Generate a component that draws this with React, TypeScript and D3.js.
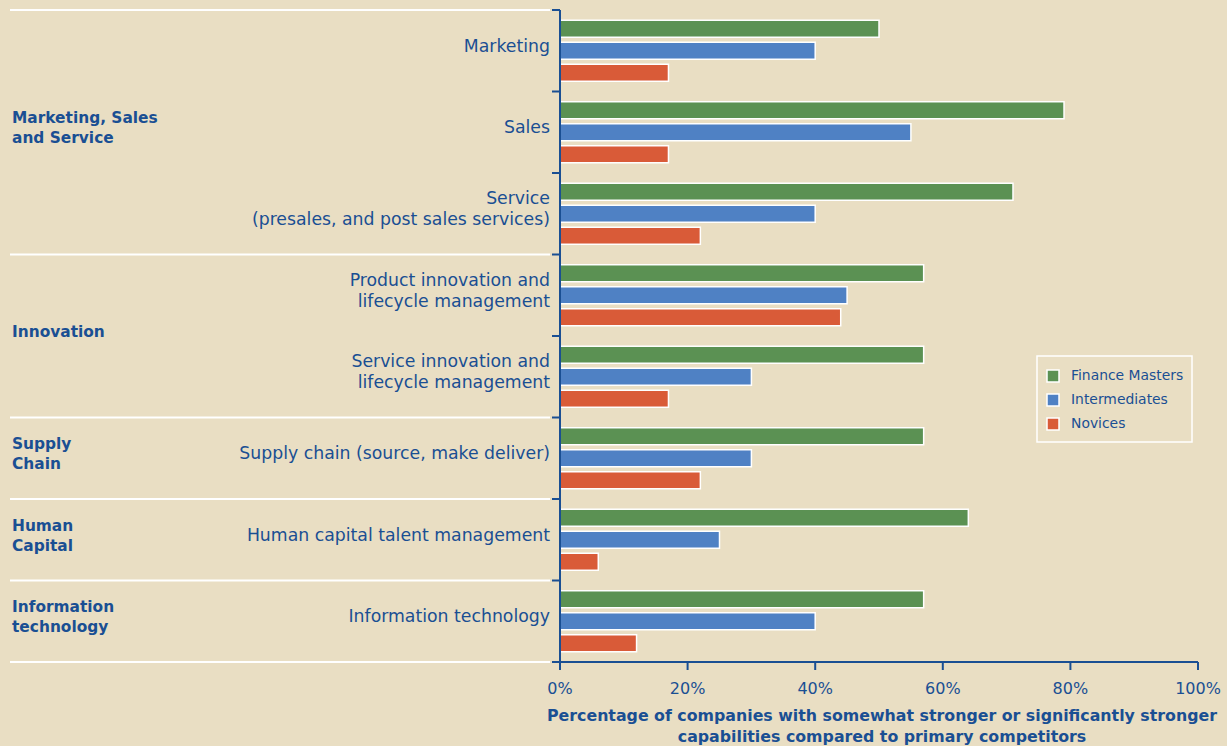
import * as d3 from "d3";
import React from "react";

const categories = [
  "Marketing",
  "Sales",
  "Service\n(presales, and post sales services)",
  "Product innovation and\nlifecycle management",
  "Service innovation and\nlifecycle management",
  "Supply chain (source, make deliver)",
  "Human capital talent management",
  "Information technology",
];

const groups = [
  { name: "Marketing, Sales\nand Service", size: 3 },
  { name: "Innovation", size: 2 },
  { name: "Supply\nChain", size: 1 },
  { name: "Human\nCapital", size: 1 },
  { name: "Information\ntechnology", size: 1 },
];

const seriesNames = ["Finance Masters", "Intermediates", "Novices"];
const financeMasters = [50, 79, 71, 57, 57, 57, 64, 57];
const intermediates = [40, 55, 40, 45, 30, 30, 25, 40];
const novices = [17, 17, 22, 44, 17, 22, 6, 12];
const seriesValues = [financeMasters, intermediates, novices];

const xTicks = [0, 20, 40, 60, 80, 100];

const colors = ["#5b9153", "#4f81c4", "#d95b38"];
const ink = "#1a4f93";
const bg = "#e9dec3";
const font = "'DejaVu Sans', sans-serif";

const width = 1227;
const height = 746;
const left = 560;
const right = 1198;
const top = 10;
const bottom = 662;

export default function App() {
  const x = d3.scaleLinear().domain([0, 100]).range([left, right]);
  const y = d3.scaleBand<string>().domain(categories).range([top, bottom]);
  const ys = d3
    .scaleBand<string>()
    .domain(seriesNames)
    .range([0, y.bandwidth()])
    .paddingInner(0.227)
    .paddingOuter(0.465);

  // group boundaries in category index
  let acc = 0;
  const groupSpans = groups.map((g) => {
    const start = acc;
    acc += g.size;
    return { ...g, start, end: acc };
  });
  const yAt = (i: number) => top + i * y.step();

  return (
    <div style={{ position: "absolute", left: 0, top: 0 }}>
      <svg width={width} height={height} style={{ display: "block", background: bg, fontFamily: font }}>
        {/* group separators */}
        {[0, ...groupSpans.map((g) => g.end)].map((i) => (
          <line key={"sep" + i} x1={10} x2={550} y1={yAt(i)} y2={yAt(i)} stroke="#fff" strokeWidth={2} />
        ))}

        {/* group labels */}
        {groupSpans.map((g) => {
          const lines = g.name.split("\n");
          const cy = (yAt(g.start) + yAt(g.end)) / 2 - 4;
          return (
            <text key={g.name} x={12} y={cy - ((lines.length - 1) * 20) / 2} fill={ink} fontWeight="bold" fontSize={15.4} dominantBaseline="middle">
              {lines.map((l, k) => (
                <tspan key={k} x={12} dy={k === 0 ? 0 : 20}>{l}</tspan>
              ))}
            </text>
          );
        })}

        {/* category labels */}
        {categories.map((c) => {
          const lines = c.split("\n");
          const cy = (y(c) as number) + y.bandwidth() / 2 - 4;
          return (
            <text key={c} x={550} y={cy - ((lines.length - 1) * 21) / 2} fill={ink} fontSize={17.3} textAnchor="end" dominantBaseline="middle">
              {lines.map((l, k) => (
                <tspan key={k} x={550} dy={k === 0 ? 0 : 21}>{l}</tspan>
              ))}
            </text>
          );
        })}

        {/* bars */}
        {seriesValues.map((vals, si) =>
          vals.map((v, ci) => (
            <rect
              key={si + "-" + ci}
              x={x(0)}
              y={(y(categories[ci]) as number) + (ys(seriesNames[si]) as number)}
              width={x(v) - x(0)}
              height={ys.bandwidth()}
              fill={colors[si]}
              stroke="#fff"
              strokeWidth={1.5}
            />
          ))
        )}

        {/* y axis */}
        <line x1={left} x2={left} y1={top} y2={bottom + 8} stroke={ink} strokeWidth={2} />
        {d3.range(categories.length + 1).map((i) => (
          <line key={"yt" + i} x1={left - 8} x2={left} y1={yAt(i)} y2={yAt(i)} stroke={ink} strokeWidth={2} />
        ))}

        {/* x axis */}
        <line x1={left - 8} x2={right} y1={bottom} y2={bottom} stroke={ink} strokeWidth={2} />
        {xTicks.map((t) => (
          <g key={"xt" + t}>
            <line x1={x(t)} x2={x(t)} y1={bottom} y2={bottom + 8} stroke={ink} strokeWidth={2} />
            <text x={x(t)} y={689} fill={ink} fontSize={16} textAnchor="middle" dominantBaseline="middle">
              {t}%
            </text>
          </g>
        ))}
        <text x={882} y={716} fill={ink} fontSize={15.8} fontWeight="bold" textAnchor="middle" dominantBaseline="middle">
          Percentage of companies with somewhat stronger or significantly stronger
        </text>
        <text x={882} y={737} fill={ink} fontSize={15.8} fontWeight="bold" textAnchor="middle" dominantBaseline="middle">
          capabilities compared to primary competitors
        </text>

        {/* legend */}
        <rect x={1037} y={356} width={155} height={86} fill="none" stroke="#fff" strokeWidth={1.5} />
        {seriesNames.map((s, i) => (
          <g key={s} transform={`translate(1047, ${376 + i * 24})`}>
            <rect x={0} y={-6} width={12} height={12} fill={colors[i]} stroke="#fff" strokeWidth={1.5} />
            <text x={24} y={0} fill={ink} fontSize={13.9} dominantBaseline="middle">{s}</text>
          </g>
        ))}
      </svg>
    </div>
  );
}
